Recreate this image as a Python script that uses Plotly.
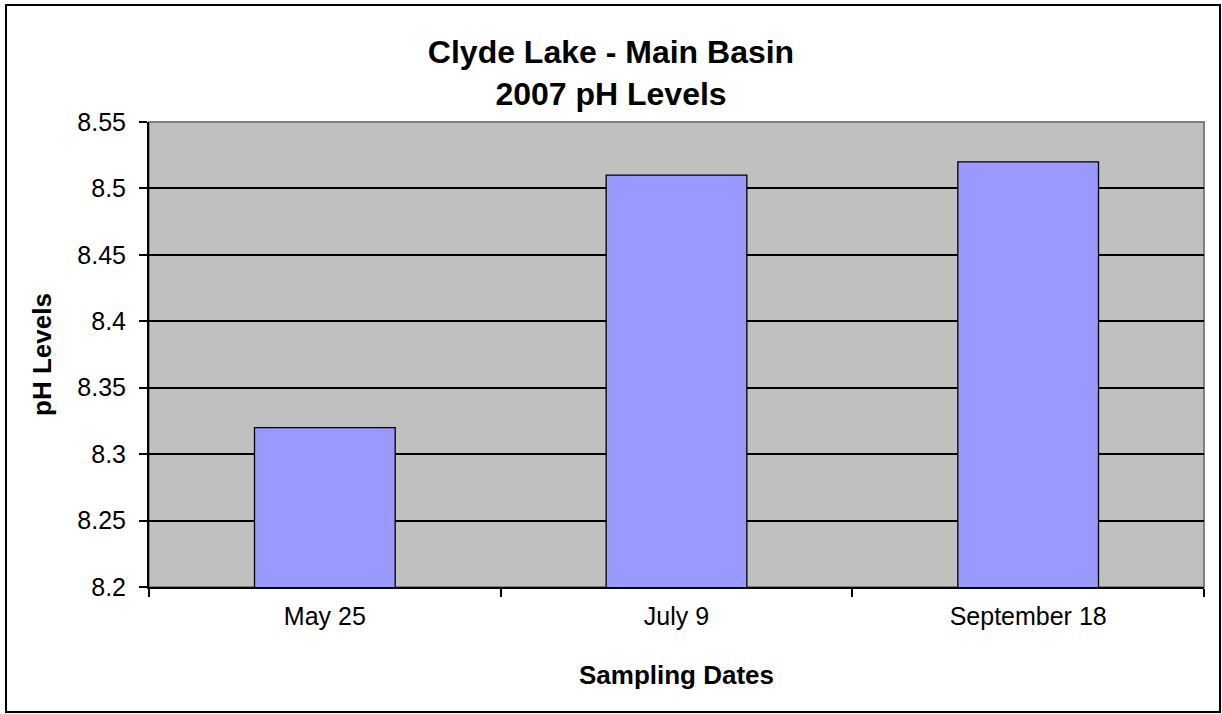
import plotly.graph_objects as go

# data
dates = ["May 25", "July 9", "September 18"]
ph_levels = [8.32, 8.51, 8.52]
y_ticks = [8.2, 8.25, 8.3, 8.35, 8.4, 8.45, 8.5, 8.55]
y_tick_labels = ["8.2", "8.25", "8.3", "8.35", "8.4", "8.45", "8.5", "8.55"]

W, H = 1222, 714
L, R, T, B = 149, 18, 122, 127
pw, ph = W - L - R, H - T - B


def px_x(x):
    return (x - L) / pw


def px_y(y):
    return (H - B - y) / ph


fig = go.Figure()

fig.add_trace(
    go.Bar(
        x=dates,
        y=ph_levels,
        width=0.4,
        marker=dict(color="#9999FF", line=dict(color="black", width=1.3)),
    )
)

fig.update_layout(
    width=W,
    height=H,
    margin=dict(l=L, r=R, t=T, b=B),
    paper_bgcolor="white",
    plot_bgcolor="#C0C0C0",
    showlegend=False,
    font=dict(family="Liberation Sans, Arial, sans-serif", color="black"),
    title=dict(
        text="<b>Clyde Lake - Main Basin<br>2007 pH Levels</b>",
        x=0.5,
        xref="container",
        xanchor="center",
        y=1 - 63 / H,
        yanchor="top",
        font=dict(size=32),
    ),
    xaxis=dict(
        showline=True,
        linecolor="black",
        linewidth=2,
        ticks="outside",
        tickson="boundaries",
        ticklen=8,
        tickcolor="black",
        tickwidth=1.5,
        tickfont=dict(size=25),
        ticklabelstandoff=6,
        showgrid=False,
        title=dict(text="<b>Sampling Dates</b>", font=dict(size=26), standoff=37),
    ),
    yaxis=dict(
        range=[8.2, 8.55],
        tickvals=y_ticks,
        ticktext=y_tick_labels,
        showline=True,
        linecolor="black",
        linewidth=2,
        ticks="outside",
        ticklen=8,
        tickcolor="black",
        tickwidth=1.5,
        tickfont=dict(size=25),
        ticklabelstandoff=8,
        showgrid=True,
        gridcolor="black",
        gridwidth=1.5,
        zeroline=False,
        title=dict(text="<b>pH Levels</b>", font=dict(size=26), standoff=18),
    ),
    shapes=[
        # gray frame of the plot area (top and right)
        dict(type="rect", xref="paper", yref="paper", x0=0, x1=1, y0=0, y1=1,
             line=dict(color="#808080", width=2), layer="below"),
        # outer chart border
        dict(type="rect", xref="paper", yref="paper",
             x0=px_x(6), x1=px_x(1220), y0=px_y(712), y1=px_y(5),
             line=dict(color="black", width=2)),
    ],
)

fig.write_html(
    "out.html",
    config={"displayModeBar": False},
    post_script="document.body.style.margin='0';",
)
